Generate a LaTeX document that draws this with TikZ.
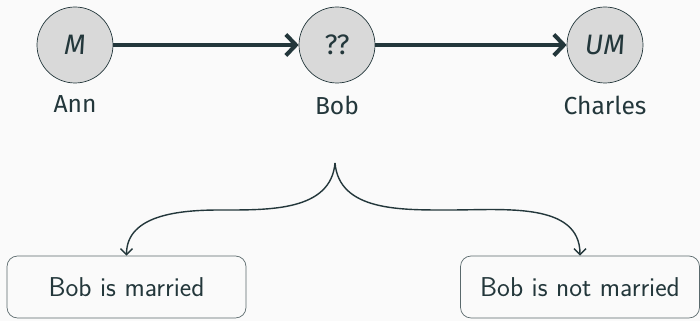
\documentclass[tikz,border=0pt]{standalone}
\usepackage{fontspec}
\newfontfamily\firafont{Fira Sans}
\usetikzlibrary{arrows.meta, positioning}
\definecolor{mdark}{HTML}{23373B}
\definecolor{mbg}{HTML}{FAFAFA}
\definecolor{mfill}{HTML}{D9D9D9}

\begin{document}
\begin{tikzpicture}[
    person/.style={circle, draw=mdark, fill=mfill, thin, minimum size=1.52cm,
      inner sep=0pt, text=mdark, font=\firafont\fontsize{16}{19}\selectfont},
    lbl/.style={text=mdark, font=\firafont\fontsize{14}{17}\selectfont},
    outcome/.style={draw=mdark!75, rounded corners=6pt, thin, minimum width=4.78cm,
      minimum height=1.24cm, text=mdark, font=\sffamily\fontsize{15.5}{18}\selectfont},
    link/.style={draw=mdark, line width=2.3pt, -{Straight Barb[length=2mm, width=4.2mm]}},
    branch/.style={draw=mdark, line width=0.8pt, -{Straight Barb[length=1.2mm, width=2.4mm]}}
  ]

  % background and bounding box
  \fill[mbg] (0,0) rectangle (14,-6.42);
  \useasboundingbox (0,0) rectangle (14,-6.42);

  % -- people --
  \node[person] (ann) at (1.5,-0.9) {\textit{M}};
  \node[person] (bob) at (6.74,-0.9) {??};
  \node[person] (charles) at (12.1,-0.9) {\textit{UM}};

  \node[lbl, below=3.5pt of ann] (annlbl) {Ann};
  \node[lbl, below=3.5pt of bob] (boblbl) {Bob};
  \node[lbl, below=3.5pt of charles] (charleslbl) {Charles};

  \draw[link] (ann) -- (bob);
  \draw[link] (bob) -- (charles);

  % -- the two cases --
  \node[outcome] (married) at (2.53,-5.74) {Bob is married};
  \node[outcome] (notmarried) at (11.6,-5.74) {Bob is not married};

  \coordinate (split) at (6.7,-3.26);
  \coordinate (lmid) at (4.4,-4.2);
  \coordinate (rmid) at (9.0,-4.2);

  \draw[branch] (split) to[out=-95, in=0] (lmid) to[out=180, in=90] (married.north);
  \draw[branch] (split) to[out=-85, in=180] (rmid) to[out=0, in=90] (notmarried.north);

\end{tikzpicture}
\end{document}
